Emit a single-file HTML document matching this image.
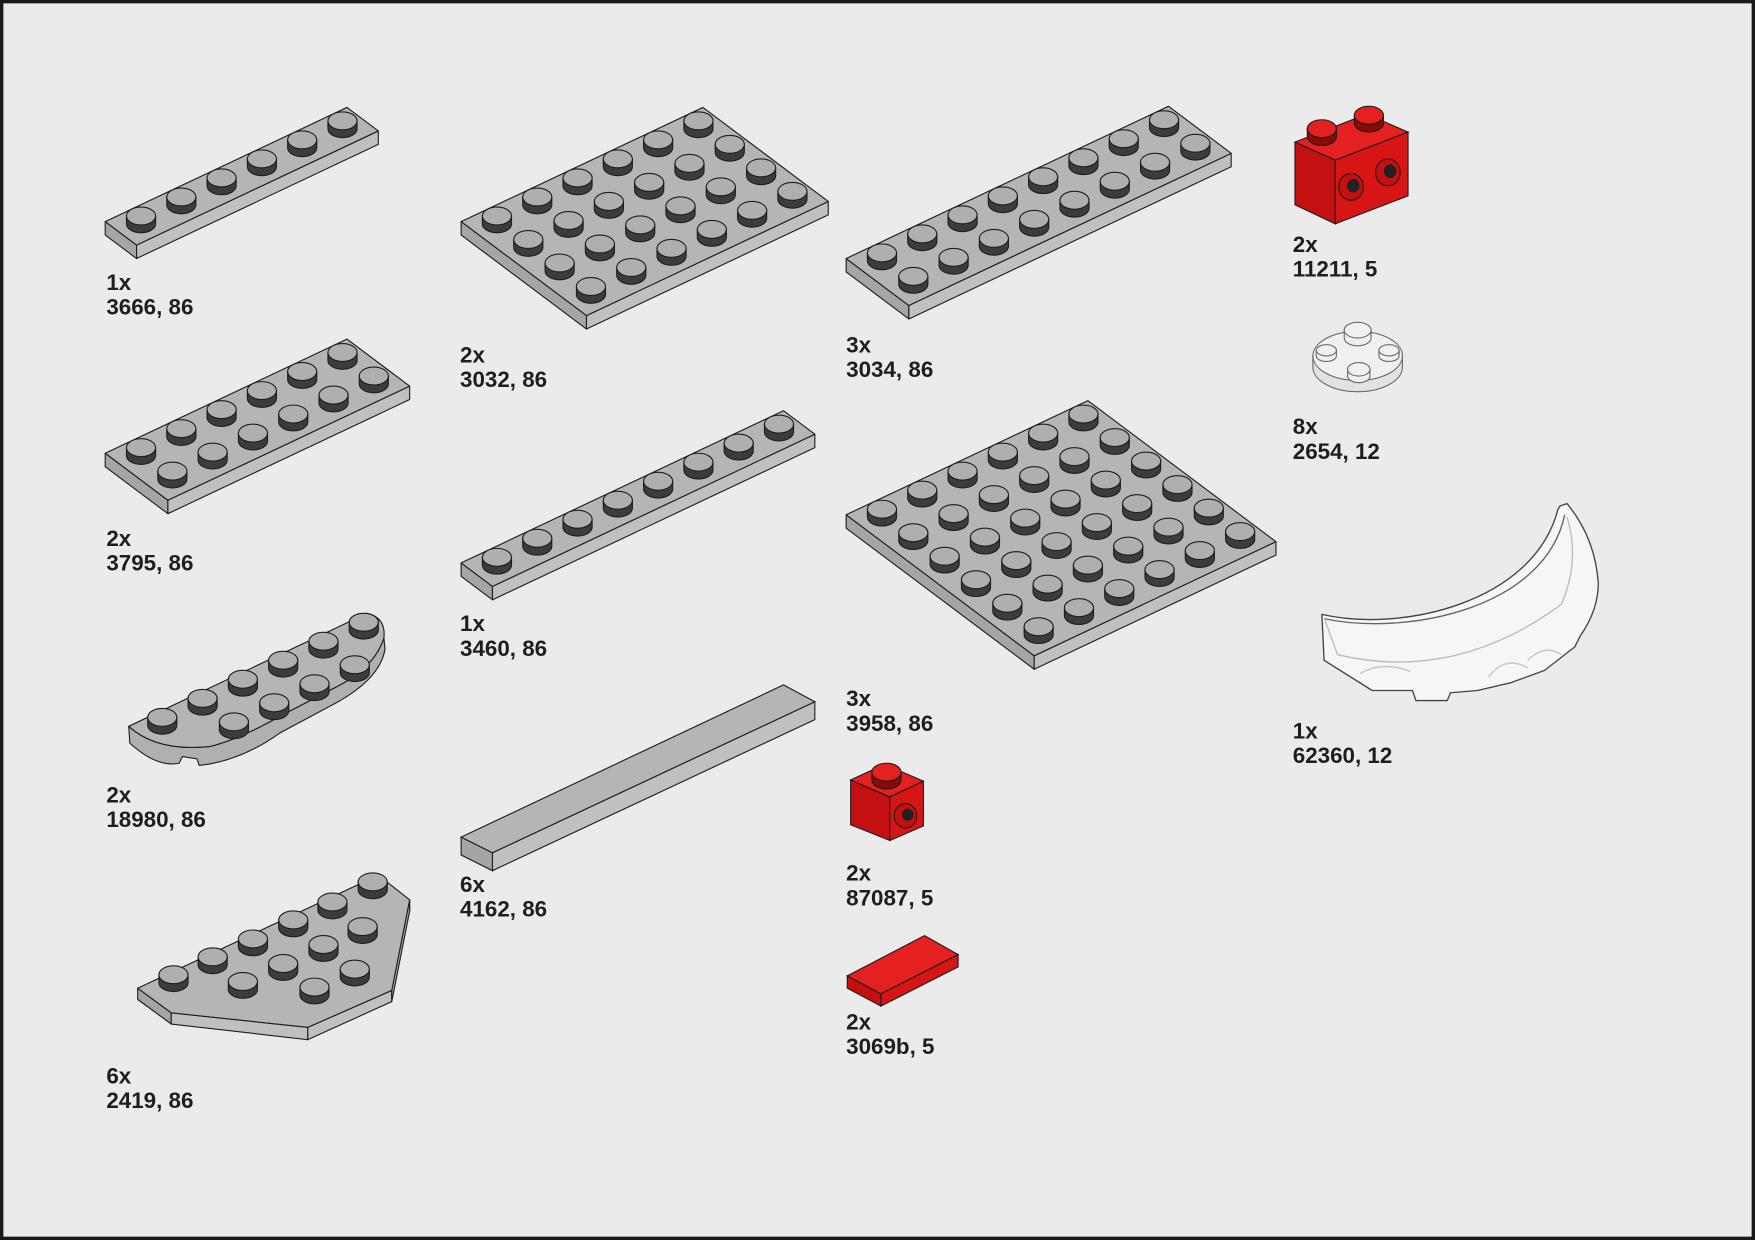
<!DOCTYPE html>
<html><head><meta charset="utf-8">
<style>
html,body{margin:0;padding:0;background:#ebebeb;}
svg{display:block;}
text{font-family:"Liberation Sans",Arial,sans-serif;font-weight:bold;font-size:20px;fill:#1e1e1e;}
</style></head>
<body>
<svg id="s" width="1755" height="1240" viewBox="0 0 1568 1108" preserveAspectRatio="none" xmlns="http://www.w3.org/2000/svg">
<rect x="0" y="0" width="1568" height="1108" fill="#1a1a1a"/>
<rect x="3" y="3" width="1562" height="1102" fill="#ebebeb"/>
<g id="parts" stroke="#1e1e1e" stroke-width="1" stroke-linejoin="round"></g>

<!-- red brick 11211 -->
<g stroke="#1e1e1e" stroke-width="1">
<polygon points="1157,127 1193,143 1193,200 1157,183" fill="#c41010"/>
<polygon points="1193,143 1258,118 1258,175 1193,200" fill="#d81515"/>
<polygon points="1157,127 1221,102 1258,118 1193,143" fill="#e52020"/>
<path d="M1168,115 L1168,122 A13,8 0 0 0 1194,122 L1194,115 Z" fill="#8a0a0a"/><ellipse cx="1181" cy="115" rx="13" ry="8" fill="#e52020"/>
<path d="M1210,103 L1210,110 A13,8 0 0 0 1236,110 L1236,103 Z" fill="#8a0a0a"/><ellipse cx="1223" cy="103" rx="13" ry="8" fill="#e52020"/>
<ellipse cx="1207" cy="167" rx="11" ry="12" fill="#c41010"/><ellipse cx="1209" cy="166" rx="5" ry="5.5" fill="#222"/>
<ellipse cx="1240" cy="154" rx="11" ry="12" fill="#c41010"/><ellipse cx="1242" cy="153" rx="5" ry="5.5" fill="#222"/>
</g>
<!-- red brick 87087 -->
<g stroke="#1e1e1e" stroke-width="1">
<polygon points="760,697 795,712 795,751 760,737" fill="#c41010"/>
<polygon points="795,712 825,698 825,738 795,751" fill="#d81515"/>
<polygon points="760,697 790,683 825,698 795,712" fill="#e52020"/>
<path d="M779,690 L779,697 A13,8 0 0 0 805,697 L805,690 Z" fill="#8a0a0a"/><ellipse cx="792" cy="690" rx="13" ry="8" fill="#e52020"/>
<ellipse cx="809" cy="729" rx="10" ry="11" fill="#c41010"/><ellipse cx="811" cy="728" rx="4.5" ry="5" fill="#222"/>
</g>
<!-- red tile 3069b -->
<g stroke="#1e1e1e" stroke-width="1">
<polygon points="757,872 787,888 787,899 757,883" fill="#c41010"/>
<polygon points="787,888 856,853 856,864 787,899" fill="#d81515"/>
<polygon points="757,872 826,836 856,853 787,888" fill="#e52020"/>
</g>
<!-- tile 4162 -->
<g stroke="#1e1e1e" stroke-width="1">
<polygon points="412,748 440,762 440,778 412,764" fill="#a5a5a5"/>
<polygon points="440,762 728,627 728,643 440,778" fill="#c0c0c0"/>
<polygon points="412,748 700,612 728,627 440,762" fill="#b5b5b5"/>
</g>
<!-- round plate 2654 -->
<g stroke="#6a6a6a" stroke-width="1" fill="#f0f0f0">
<path d="M1173,318 L1173,328 A40,22 0 0 0 1253,328 L1253,318 Z" fill="#e2e2e2"/>
<ellipse cx="1213" cy="318" rx="40" ry="22"/>
<path d="M1201,295 L1201,302 A12,7 0 0 0 1225,302 L1225,295 Z"/><ellipse cx="1213" cy="295" rx="12" ry="7"/>
<path d="M1176,313 L1176,318 A9,5 0 0 0 1194,318 L1194,313 Z"/><ellipse cx="1185" cy="313" rx="9" ry="5"/>
<path d="M1232,313 L1232,318 A9,5 0 0 0 1250,318 L1250,313 Z"/><ellipse cx="1241" cy="313" rx="9" ry="5"/>
<path d="M1204,330 L1204,336 A10,6 0 0 0 1224,336 L1224,330 Z"/><ellipse cx="1214" cy="330" rx="10" ry="6"/>
</g>
<!-- windscreen 62360 -->
<g stroke="#444" stroke-width="1.2" fill="#f6f6f6" stroke-linejoin="round">
<path d="M1181,549 L1183,590 L1226,617 L1262,617 L1265,626 L1293,626 L1296,619 L1320,617 L1350,610 L1380,599 L1407,578 L1412,568 Q1428,545 1428,521 Q1425,480 1400,450 L1394,452 L1392,455 C1370,540 1250,565 1181,549 Z"/>
<path d="M1184,553 C1255,568 1380,545 1398,460" fill="none" stroke="#666"/>
<path d="M1183,552 L1195,585 Q1300,610 1395,540 Q1412,500 1400,462" fill="none" stroke="#bbb"/>
<path d="M1215,602 Q1235,590 1260,600 M1330,605 Q1345,585 1365,597 M1365,590 Q1380,575 1395,585" fill="none" stroke="#c4c4c4"/>
</g>

<text x="95" y="259">1x</text><text x="95" y="281">3666, 86</text>
<text x="411" y="324">2x</text><text x="411" y="346">3032, 86</text>
<text x="756" y="315">3x</text><text x="756" y="337">3034, 86</text>
<text x="1155" y="225">2x</text><text x="1155" y="247">11211, 5</text>
<text x="95" y="488">2x</text><text x="95" y="510">3795, 86</text>
<text x="1155" y="388">8x</text><text x="1155" y="410">2654, 12</text>
<text x="411" y="564">1x</text><text x="411" y="586">3460, 86</text>
<text x="756" y="631">3x</text><text x="756" y="653">3958, 86</text>
<text x="1155" y="660">1x</text><text x="1155" y="682">62360, 12</text>
<text x="95" y="717">2x</text><text x="95" y="739">18980, 86</text>
<text x="411" y="797">6x</text><text x="411" y="819">4162, 86</text>
<text x="756" y="787">2x</text><text x="756" y="809">87087, 5</text>
<text x="756" y="920">2x</text><text x="756" y="942">3069b, 5</text>
<text x="95" y="968">6x</text><text x="95" y="990">2419, 86</text>
</svg>
<script>
(function(){
var g=document.getElementById('parts');var NS='http://www.w3.org/2000/svg';
var U=[36,-17],V=[28,21],H=12;
function el(t,a){var e=document.createElementNS(NS,t);for(var k in a)e.setAttribute(k,a[k]);g.appendChild(e);return e;}
function P(p){return p.map(function(q){return q[0].toFixed(1)+','+q[1].toFixed(1)}).join(' ');}
function stud(x,y){var rx=13,ry=8,h=7;
 el('path',{d:'M'+(x-rx)+','+(y-h)+' L'+(x-rx)+','+y+' A'+rx+','+ry+' 0 0 0 '+(x+rx)+','+y+' L'+(x+rx)+','+(y-h)+' Z',fill:'#3c3c3c'});
 el('ellipse',{cx:x,cy:y-h,rx:rx,ry:ry,fill:'#afafaf'});}
function studs(L){L.sort(function(a,b){return a[1]-b[1]});L.forEach(function(c){stud(c[0],c[1])});}
function plate(sx,sy,nu,nv){
 var o=[sx-0.5*U[0]-0.5*V[0],sy-0.5*U[1]-0.5*V[1]];
 var p0=o,p1=[o[0]+nu*U[0],o[1]+nu*U[1]],p2=[p1[0]+nv*V[0],p1[1]+nv*V[1]],p3=[o[0]+nv*V[0],o[1]+nv*V[1]];
 function d(p){return [p[0],p[1]+H]}
 el('polygon',{points:P([p0,p3,d(p3),d(p0)]),fill:'#a5a5a5'});
 el('polygon',{points:P([p3,p2,d(p2),d(p3)]),fill:'#c0c0c0'});
 el('polygon',{points:P([p0,p1,p2,p3]),fill:'#b5b5b5'});
 var L=[];for(var j=0;j<nv;j++)for(var i=0;i<nu;i++)L.push([sx+i*U[0]+j*V[0],sy+i*U[1]+j*V[1]]);
 studs(L);}
plate(126,200,6,1);
plate(444,200,6,4);
plate(788,233,8,2);
plate(126,407,6,2);
plate(444,505,8,1);
plate(788,462,6,6);
// half round 18980
el('path',{d:'M115,649 L116,664 Q140,686 160,682 L163,676 L176,678 L178,684 Q215,680 250,655 L304,626 Q340,605 344,580 L343,570 Q335,595 304,612 L250,640 Q215,660 188,667 Q140,672 115,649 Z',fill:'#b0b0b0'});
el('path',{d:'M115,649 L328,548 Q345,552 343,570 Q335,595 304,612 L250,640 Q215,660 188,667 Q140,672 115,649 Z',fill:'#b5b5b5'});
(function(){var L=[];for(var i=0;i<6;i++)L.push([145+i*36,648-i*17]);for(var i=1;i<5;i++)L.push([145+i*36+28,648-i*17+21]);studs(L);})();
// wing 2419
el('polygon',{points:'123,883 153,905 153,915 160,915 165,911 205,914 210,921 238,921 240,916 270,918 275,929 350,885 350,876 366,814 366,804 350,885 153,905',fill:'#b0b0b0'});
el('polygon',{points:'123,883 123,893 153,915 153,905',fill:'#a5a5a5'});
el('polygon',{points:'153,905 275,918 275,929 153,915',fill:'#c0c0c0'});
el('polygon',{points:'275,918 350,885 350,895 275,929',fill:'#c0c0c0'});
el('polygon',{points:'350,885 366,804 366,814 350,895',fill:'#a8a8a8'});
el('polygon',{points:'123,883 338,782 366,804 350,885 275,918 153,905',fill:'#b5b5b5'});
(function(){var L=[[155,878],[190,862],[226,846],[262,829],[297,813],[333,795],[217,884],[253,868],[289,851],[324,835],[281,889],[317,873]];studs(L);})();
})();
</script>
</body></html>
